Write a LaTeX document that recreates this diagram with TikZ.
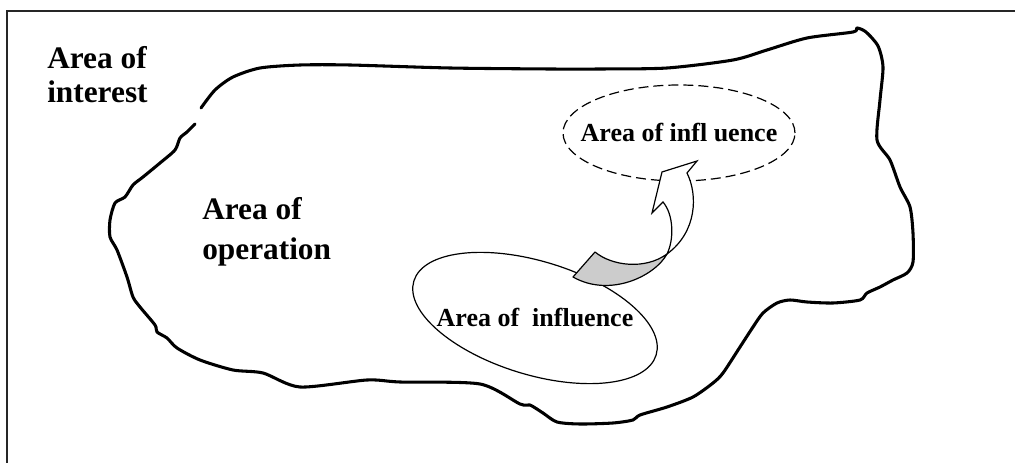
\documentclass[tikz,border=0pt]{standalone}
\usepackage{fontspec}
\setmainfont{Liberation Serif}
\usetikzlibrary{shapes.geometric}
\tikzset{
  bigtxt/.style={font=\bfseries\fontsize{23.5}{26}\selectfont, align=left, inner sep=0pt},
  smalltxt/.style={font=\bfseries\fontsize{19.5}{22}\selectfont, inner sep=0pt},
  zone/.style={draw, ellipse, line width=0.9pt, inner sep=0pt},
  outline/.style={line width=2.3pt, line join=round, line cap=round}
}

\begin{document}
\begin{tikzpicture}[x=0.75pt, y=-0.75pt]
\useasboundingbox (0,0) rectangle (1015,463);
% frame
\coordinate (fbl) at (7,470);
\coordinate (ftl) at (7,11);
\coordinate (ftr) at (1022,11);
\draw[line width=1.4pt, black!85] (fbl) -- (ftl) -- (ftr);

% area of operation (open outline)
\draw[outline] plot[smooth, tension=0.45] coordinates {
 (201,108) (215,90) (233,77) (260,68) (300,65) (350,65) (450,68) (550,69)
 (600,69) (667,68) (733,60) (767,50) (807,38) (853,32) (857,28) (866,32)
 (878,46) (883,67) (880,100) (877,140) (890,160) (900,187) (910,207)
 (913,233) (913,262) (907,273) (893,280) (880,287) (867,293) (860,300)
 (833,303) (807,302) (790,300) (777,303) (763,313) (753,327) (740,347)
 (723,373) (713,383) (693,397) (667,407) (640,415) (633,420) (613,423)
 (580,424) (557,422) (543,413) (530,405) (520,404) (480,384) (400,382)
 (367,380) (300,387) (263,373) (233,370) (200,360) (177,348) (167,338)
 (157,332) (155,325) (140,307) (133,297) (127,277) (117,250) (110,237)
 (110,220) (115,203) (125,197) (133,185) (143,177) (160,163) (175,150)
 (180,138) (187,132) (195,124)};

% labels (base = last line)
\node[bigtxt, anchor=base west] (interest) at (47,103) {Area of\\interest};
\node[bigtxt, anchor=base west] (operation) at (202,260) {Area of\\[4pt]operation};

% areas of influence
\node[zone, dash pattern=on 7.5pt off 3.75pt, minimum width=174pt, minimum height=72pt] (inflB) at (679,133) {};
\node[smalltxt] (inflBtxt) at (inflB.center) {Area of infl uence};
\node[zone, rotate=-17, minimum width=190pt, minimum height=85pt] (inflA) at (535,318) {};
\node[smalltxt] (inflAtxt) at (inflA.center) {Area of\ \ influence};

% twisted arrow
\filldraw[fill=black!20, line width=0.9pt, line join=round]
  (595,252) .. controls (612,266) and (645,270) .. (667,254)
  .. controls (655,276) and (610,298) .. (573,277) -- cycle;
\filldraw[fill=white, line width=0.9pt, line join=miter]
  (667,254) .. controls (674,240) and (674,215) .. (663,202)
  -- (652,213) -- (662,172) -- (697,161) -- (687,173)
  .. controls (698,195) and (697,232) .. (667,254) -- cycle;
\end{tikzpicture}
\end{document}
